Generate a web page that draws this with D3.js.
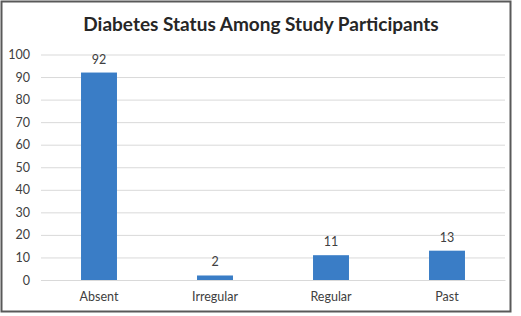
<!DOCTYPE html>
<html><head><meta charset="utf-8">
<script src="https://cdn.jsdelivr.net/npm/d3@7"></script>
<style>body{margin:0;background:#fff;}svg{display:block;}</style>
</head><body>
<script>
const categories = ["Absent", "Irregular", "Regular", "Past"];
const values = [92, 2, 11, 13];
const yTicks = [0, 10, 20, 30, 40, 50, 60, 70, 80, 90, 100];
const title = "Diabetes Status Among Study Participants";

const W = 521, H = 316;
const m = {left: 41, right: 16, top: 54.5, bottom: 36};
const font = "Lato, 'Open Sans', sans-serif";

const svg = d3.select("body").append("svg").attr("width", W).attr("height", H);
svg.append("rect").attr("x", 0).attr("y", 0).attr("width", W).attr("height", H).attr("fill", "#fff");
svg.append("rect").attr("x", 1.5).attr("y", 1.5).attr("width", 509).attr("height", 310)
  .attr("fill", "none").attr("stroke", "#595959").attr("stroke-width", 2);

const x = d3.scaleBand().domain(categories).range([m.left, W - m.right]).paddingInner(0.69).paddingOuter(0.345);
const y = d3.scaleLinear().domain([0, 100]).range([H - m.bottom, m.top]);

const yAxis = svg.append("g").attr("transform", `translate(${m.left},0)`)
  .call(d3.axisLeft(y).tickValues(yTicks).tickSize(-(W - m.right - m.left)).tickPadding(11));
yAxis.select(".domain").remove();
yAxis.selectAll(".tick line").attr("stroke", "#d9d9d9").attr("stroke-width", 1);
yAxis.selectAll(".tick text").attr("fill", "#404040").attr("font-size", 12.5).attr("font-family", font);

svg.selectAll(".bar").data(values).join("rect").attr("class", "bar")
  .attr("x", (d, i) => x(categories[i])).attr("width", x.bandwidth())
  .attr("y", d => y(d)).attr("height", d => y(0) - y(d))
  .attr("fill", "#3a7dc6");

svg.selectAll(".val").data(values).join("text").attr("class", "val")
  .attr("x", (d, i) => x(categories[i]) + x.bandwidth() / 2)
  .attr("y", d => y(d) - 9)
  .attr("text-anchor", "middle").attr("font-size", 12.5).attr("font-family", font).attr("fill", "#404040")
  .text(d => d);

const xAxis = svg.append("g").attr("transform", `translate(0,${y(0)})`)
  .call(d3.axisBottom(x).tickSize(0).tickPadding(12));
xAxis.select(".domain").attr("stroke", "#d9d9d9");
xAxis.selectAll(".tick text").attr("fill", "#404040").attr("font-size", 12.5).attr("font-family", font);

svg.append("text").attr("x", 261).attr("y", 31).attr("text-anchor", "middle")
  .attr("font-size", 19).attr("font-weight", "bold").attr("font-family", font).attr("fill", "#262626")
  .text(title);
</script>
</body></html>
